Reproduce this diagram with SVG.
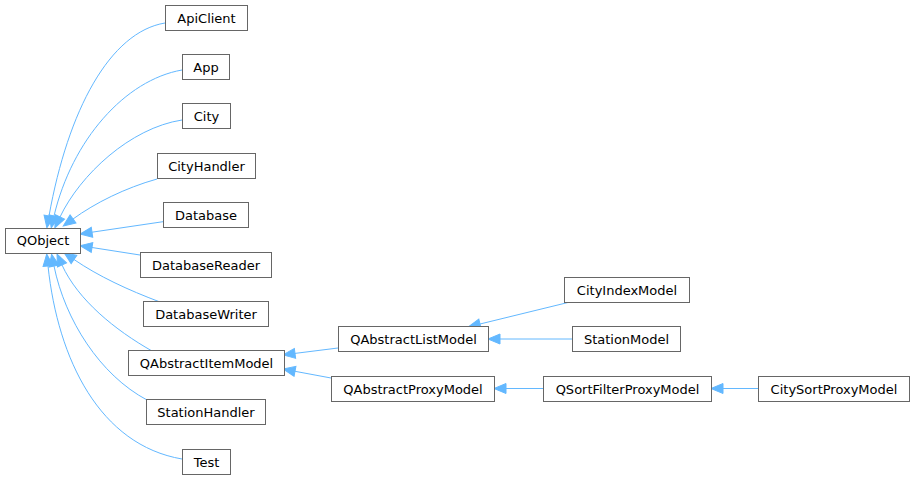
<svg xmlns="http://www.w3.org/2000/svg" width="915" height="480" viewBox="0 0 915 480">
<style>
.n rect{fill:#ffffff;stroke:#666666;stroke-width:1}
.n text{font-family:"DejaVu Sans",sans-serif;font-size:13px;fill:#000000;text-anchor:middle}
.e path{fill:none;stroke:#63b8ff;stroke-width:1;marker-end:url(#ah)}
</style>
<defs>
<marker id="ah" markerUnits="userSpaceOnUse" markerWidth="12" markerHeight="10" refX="0" refY="5" orient="auto" overflow="visible">
<path d="M0,0 L12,5 L0,10 z" fill="#63b8ff" stroke="#63b8ff" stroke-width="1"/>
</marker>
</defs>
<rect width="915" height="480" fill="#ffffff"/>
<g id="edges" class="e">
<path d="M165,23 C110,32 68,110 49,216"/>
<path d="M182,70 C125,80 72,140 54,216"/>
<path d="M182,120 C130,128 80,175 60,217"/>
<path d="M157,179 C125,188 95,203 73,219"/>
<path d="M163,221.7 L92,232.2"/>
<path d="M140,255 L92,247.5"/>
<path d="M160,302 C128,290 98,276 74,259.5"/>
<path d="M152,351 C115,330 78,300 62,265"/>
<path d="M147,400 C100,375 65,320 54,266"/>
<path d="M182,459 C100,445 58,360 48,266"/>
<path d="M338,348 L295,353.4"/>
<path d="M331,378 L295,371.3"/>
<path d="M570,302 L480,324"/>
<path d="M572,339 L500,339"/>
<path d="M543,388.5 L506,388.5"/>
<path d="M758,388.5 L723,388.5"/>
</g>
<g id="QObject" class="n"><rect x="5.5" y="228.5" width="75" height="25"/><text x="43" y="245">QObject</text></g>
<g id="ApiClient" class="n"><rect x="165.5" y="5.5" width="82" height="25"/><text x="206.5" y="22.5">ApiClient</text></g>
<g id="App" class="n"><rect x="182.5" y="54.5" width="47" height="25"/><text x="206" y="71.5">App</text></g>
<g id="City" class="n"><rect x="182.5" y="103.5" width="48" height="25"/><text x="206.5" y="120.5">City</text></g>
<g id="CityHandler" class="n"><rect x="157.5" y="153.5" width="98" height="25"/><text x="206.5" y="170.5">CityHandler</text></g>
<g id="Database" class="n"><rect x="163.5" y="202.5" width="85" height="25"/><text x="206" y="219.5">Database</text></g>
<g id="DatabaseReader" class="n"><rect x="140.5" y="252.5" width="131" height="25"/><text x="206" y="269.5">DatabaseReader</text></g>
<g id="DatabaseWriter" class="n"><rect x="143.5" y="301.5" width="125" height="25"/><text x="206" y="318.5">DatabaseWriter</text></g>
<g id="QAbstractItemModel" class="n"><rect x="128.5" y="350.5" width="156" height="25"/><text x="206.5" y="367.5">QAbstractItemModel</text></g>
<g id="StationHandler" class="n"><rect x="146.5" y="399.5" width="119" height="25"/><text x="206" y="416.5">StationHandler</text></g>
<g id="Test" class="n"><rect x="182.5" y="449.5" width="48" height="25"/><text x="206.5" y="466.5">Test</text></g>
<g id="QAbstractListModel" class="n"><rect x="338.5" y="326.5" width="150" height="25"/><text x="413.5" y="343.5">QAbstractListModel</text></g>
<g id="QAbstractProxyModel" class="n"><rect x="331.5" y="376.5" width="163" height="25"/><text x="413" y="393.5">QAbstractProxyModel</text></g>
<g id="CityIndexModel" class="n"><rect x="564.5" y="277.5" width="125" height="25"/><text x="627" y="294.5">CityIndexModel</text></g>
<g id="StationModel" class="n"><rect x="572.5" y="326.5" width="108" height="25"/><text x="626.5" y="343.5">StationModel</text></g>
<g id="QSortFilterProxyModel" class="n"><rect x="543.5" y="376.5" width="168" height="25"/><text x="627.5" y="393.5">QSortFilterProxyModel</text></g>
<g id="CitySortProxyModel" class="n"><rect x="758.5" y="376.5" width="151" height="25"/><text x="834" y="393.5">CitySortProxyModel</text></g>
</svg>
